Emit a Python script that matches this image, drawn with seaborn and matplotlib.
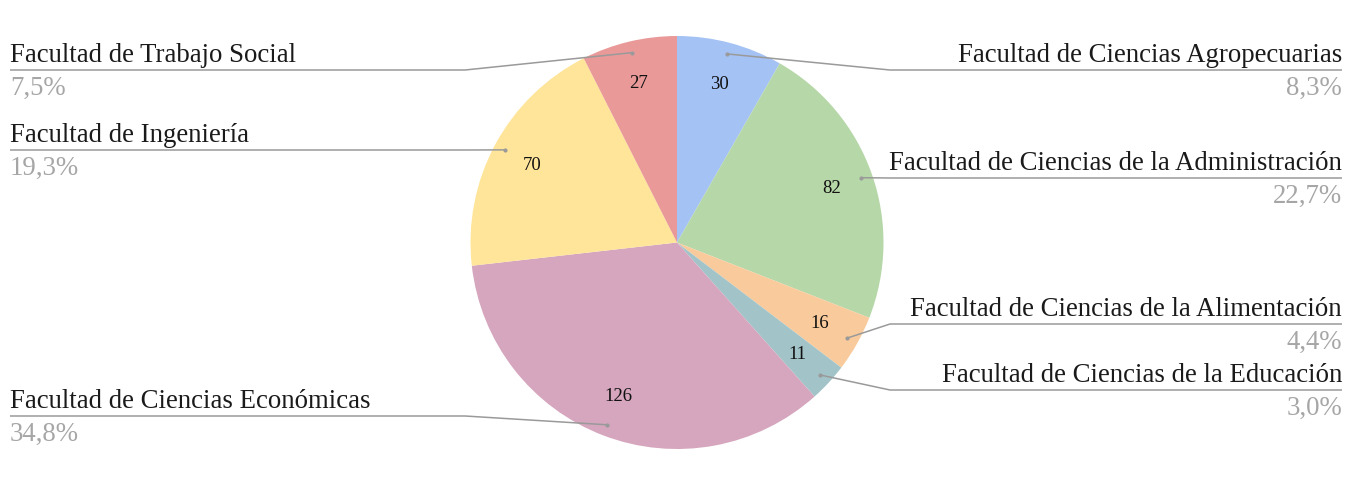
import numpy as np
import matplotlib
matplotlib.use("Agg")
import matplotlib.pyplot as plt
import seaborn as sns

# ---- data ----
categories = [
    "Facultad de Ciencias Agropecuarias",
    "Facultad de Ciencias de la Administración",
    "Facultad de Ciencias de la Alimentación",
    "Facultad de Ciencias de la Educación",
    "Facultad de Ciencias Económicas",
    "Facultad de Ingeniería",
    "Facultad de Trabajo Social",
]
values = [30, 82, 16, 11, 126, 70, 27]
slice_colors = ["#a4c2f4", "#b6d7a8", "#f9cb9c", "#a2c4c9", "#d5a6bd", "#ffe599", "#ea9999"]

# ---- layout (pixel coordinates, y measured from top) ----
label_side = ["right", "right", "right", "right", "left", "left", "left"]
label_line_y = [71, 179, 325, 391, 417, 151, 71]

sns.set_theme(style="white")
plt.rcParams["font.family"] = ["Liberation Serif", "DejaVu Serif"]

W, H = 1352, 481
fig = plt.figure(figsize=(W / 100, H / 100), dpi=100)
ax = fig.add_axes([0, 0, 1, 1])

def Y(py):
    return H - py

cx, cy, R = 677, Y(243.5), 206.5
total = sum(values)
palette = sns.color_palette(slice_colors)

wedges, texts, autotexts = ax.pie(
    values,
    colors=palette,
    startangle=90,
    counterclock=False,
    center=(cx, cy),
    radius=R,
    autopct=lambda p: f"{int(round(p * total / 100))}",
    pctdistance=0.795,
    textprops=dict(fontsize=13.5, color="#111111"),
    wedgeprops=dict(linewidth=0),
)

ax.set_xlim(0, W)
ax.set_ylim(0, H)
ax.set_aspect("equal")
ax.axis("off")

line_col = "#9a9a9a"
fs = 19.3
for w, name, v, side, ly in zip(wedges, categories, values, label_side, label_line_y):
    ang = np.deg2rad((w.theta1 + w.theta2) / 2)
    dx = cx + 0.945 * R * np.cos(ang)
    dy = cy + 0.945 * R * np.sin(ang)
    ly_d = Y(ly)
    pct = f"{v / total * 100:.1f}".replace(".", ",") + "%"
    if side == "right":
        bx = max(890, dx)
        ax.plot([dx, bx, 1342], [dy, ly_d, ly_d], color=line_col, lw=1.1, solid_capstyle="butt")
        ax.text(1342, ly_d + 9, name, ha="right", va="baseline", fontsize=fs, color="#1a1a1a")
        ax.text(1342, ly_d - 24, pct, ha="right", va="baseline", fontsize=fs, color="#a6a6a6")
    else:
        bx = min(465, dx)
        ax.plot([dx, bx, 10], [dy, ly_d, ly_d], color=line_col, lw=1.1, solid_capstyle="butt")
        ax.text(10, ly_d + 9, name, ha="left", va="baseline", fontsize=fs, color="#1a1a1a")
        ax.text(10, ly_d - 24, pct, ha="left", va="baseline", fontsize=fs, color="#a6a6a6")
    ax.plot([dx], [dy], marker="o", markersize=3, color=line_col, markeredgewidth=0)

fig.savefig("out.png", dpi=100, facecolor="white")
